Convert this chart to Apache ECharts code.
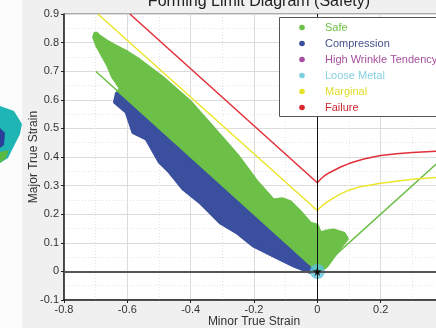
<!DOCTYPE html>
<html>
<head>
<meta charset="utf-8">
<script src="https://cdn.jsdelivr.net/npm/echarts@6/dist/echarts.min.js"></script>
<style>
  html, body { margin: 0; padding: 0; background: #fff; }
  #chart { width: 436px; height: 328px; }
</style>
</head>
<body>
<div id="chart"></div>
<script>
// outline of the "Safe" point cloud (minor, major)
var safeOutline = [
    [-0.700, 0.830], [-0.660, 0.800], [-0.640, 0.788], [-0.600, 0.765], [-0.570, 0.744],
    [-0.486, 0.674], [-0.402, 0.592], [-0.328, 0.499], [-0.254, 0.406], [-0.191, 0.312],
    [-0.139, 0.248], [-0.110, 0.252], [-0.086, 0.242], [-0.054, 0.207], [-0.023, 0.167],
    [-0.002, 0.161], [0.009, 0.132], [0.030, 0.140], [0.051, 0.143], [0.083, 0.132],
    [0.093, 0.114], [0.072, 0.085], [0.030, 0.021], [0.004, -0.002], [-0.012, 0.003],
    [-0.633, 0.621], [-0.620, 0.640], [-0.645, 0.680], [-0.660, 0.720], [-0.680, 0.760],
    [-0.695, 0.790], [-0.705, 0.820]
];
var safeDots = [[-0.699, 0.828], [-0.684, 0.811], [-0.688, 0.788], [-0.660, 0.796]];
// outline of the "Compression" point cloud
var compressionOutline = [
    [-0.633, 0.621], [-0.012, 0.003], [-0.023, -0.002], [-0.075, 0.021], [-0.139, 0.056],
    [-0.202, 0.091], [-0.254, 0.137], [-0.307, 0.172], [-0.370, 0.242], [-0.423, 0.289],
    [-0.465, 0.347], [-0.497, 0.382], [-0.539, 0.464], [-0.581, 0.487], [-0.602, 0.557],
    [-0.639, 0.592]
];
var looseMetal = [[0, 0]];
var failureLine = [[-0.592, 0.9], [0, 0.31], [0.01, 0.322], [0.02, 0.332], [0.03, 0.340],
    [0.05, 0.352], [0.075, 0.366], [0.1, 0.377], [0.125, 0.386], [0.15, 0.394],
    [0.2, 0.405], [0.25, 0.411], [0.3, 0.416], [0.4, 0.421]];
var marginalLine = [[-0.693, 0.9], [0, 0.213], [0.01, 0.224], [0.02, 0.234], [0.03, 0.242],
    [0.05, 0.256], [0.075, 0.272], [0.1, 0.284], [0.125, 0.293], [0.15, 0.299],
    [0.2, 0.308], [0.25, 0.315], [0.3, 0.322], [0.4, 0.331]];
var safeLine = [[-0.7, 0.7], [0, 0], [0.4, 0.4]];

var legendNames = ['Safe', 'Compression', 'High Wrinkle Tendency', 'Loose Metal', 'Marginal', 'Failure'];
var legendColors = ['#6cbf47', '#3a4f9e', '#a64f9e', '#7fcfe0', '#e6e22a', '#d8262e'];
var legendText = ['#6cbf47', '#44528c', '#a64f9e', '#86d0e0', '#e3dc2a', '#cc2a30'];

var FONT = 'Liberation Sans';
var chart = echarts.init(document.getElementById('chart'));

function outlineRenderer(outline, fill) {
    return function (params, api) {
        if (params.dataIndex > 0) {
            return null;
        }
        var pts = [];
        for (var i = 0; i < outline.length; ++i) {
            pts.push(api.coord(outline[i]));
        }
        return {
            type: 'polygon',
            shape: { points: pts },
            style: { fill: fill, stroke: fill, lineWidth: 4, lineJoin: 'round' }
        };
    };
}

// legend box drawn as graphic, above the plot lines
var legendItems = [];
legendItems.push({ type: 'rect', z: 100, shape: { x: 279.5, y: 17.5, width: 180, height: 99 },
    style: { fill: '#fff', stroke: '#555', lineWidth: 1 } });
for (var i = 0; i < legendNames.length; ++i) {
    var cy = 27.5 + 16 * i;
    legendItems.push({ type: 'circle', z: 101, shape: { cx: 302, cy: cy, r: 2.8 },
        style: { fill: legendColors[i] } });
    legendItems.push({ type: 'text', z: 101, x: 325, y: cy,
        style: { text: legendNames[i], fill: legendText[i], font: '11px "' + FONT + '"', verticalAlign: 'middle' } });
}

var option = {
    backgroundColor: '#f0f0f0',
    animation: false,
    textStyle: { fontFamily: FONT },
    title: {
        text: 'Forming Limit Diagram (Safety)',
        left: 254, textAlign: 'center', top: -11,
        textStyle: { fontFamily: FONT, fontSize: 16, fontWeight: 'normal', color: '#222' }
    },
    graphic: [
        { type: 'rect', z: -1, left: 0, top: 0, shape: { width: 22, height: 328 }, style: { fill: '#fcfcfc' } },
        { type: 'polygon', z: -1, shape: { points: [[0, 106], [14, 111], [22, 124], [20, 134], [8, 158], [0, 163]] },
          style: { fill: '#1fb5b5' } },
        { type: 'polygon', z: -1, shape: { points: [[0, 128], [5, 133], [4, 145], [0, 148]] },
          style: { fill: '#2a3f9a' } },
        { type: 'polygon', z: -1, shape: { points: [[0, 152], [9, 150], [6, 158], [0, 163]] },
          style: { fill: '#5cb845' } },
        { type: 'group', z: 100, children: legendItems }
    ],
    grid: {
        left: 64, top: 14, width: 380, height: 286,
        outerBoundsMode: 'none',
        show: true, backgroundColor: '#fff', borderColor: '#666', borderWidth: 1
    },
    xAxis: {
        type: 'value', min: -0.8, max: 0.4, interval: 0.2,
        name: 'Minor True Strain', nameLocation: 'middle', nameGap: 16, nameMoveOverlap: false,
        nameTextStyle: { fontFamily: FONT, fontSize: 12, color: '#333' },
        axisLine: { onZero: false, lineStyle: { color: '#222', width: 1.5 } },
        axisTick: { show: true, length: 3, lineStyle: { color: '#222' } },
        axisLabel: { fontFamily: FONT, fontSize: 11, color: '#333', margin: 4 },
        splitLine: { show: true, lineStyle: { color: '#dcdcdc' } },
        minorTick: { show: false, splitNumber: 2 },
        minorSplitLine: { show: true, lineStyle: { color: '#e4e4e4', type: [1, 2] } }
    },
    yAxis: {
        type: 'value', min: -0.1, max: 0.9, interval: 0.1,
        name: 'Major True Strain', nameLocation: 'middle', nameGap: 24, nameMoveOverlap: false,
        nameTextStyle: { fontFamily: FONT, fontSize: 12, color: '#333' },
        axisLine: { onZero: false, lineStyle: { color: '#222', width: 1.5 } },
        axisTick: { show: true, length: 3, lineStyle: { color: '#222' } },
        axisLabel: { fontFamily: FONT, fontSize: 11, color: '#333', margin: 5 },
        splitLine: { show: true, lineStyle: { color: '#dcdcdc' } },
        minorTick: { show: false, splitNumber: 2 },
        minorSplitLine: { show: true, lineStyle: { color: '#e4e4e4', type: [1, 2] } }
    },
    series: [
        {
            name: 'Safe', type: 'custom', z: 2, clip: true,
            itemStyle: { color: legendColors[0] },
            renderItem: outlineRenderer(safeOutline, legendColors[0]),
            data: safeOutline
        },
        {
            name: 'Safe', type: 'scatter', z: 2, symbolSize: 6,
            itemStyle: { color: legendColors[0] },
            data: safeDots
        },
        {
            name: 'Compression', type: 'custom', z: 2, clip: true,
            itemStyle: { color: legendColors[1] },
            renderItem: outlineRenderer(compressionOutline, legendColors[1]),
            data: compressionOutline
        },
        {
            name: 'zero', type: 'line', z: 3, data: [], silent: true,
            markLine: {
                silent: true, symbol: 'none', label: { show: false },
                data: [
                    { yAxis: 0, lineStyle: { color: '#555', width: 2, type: 'solid' } },
                    { xAxis: 0, lineStyle: { color: '#111', width: 1, type: 'solid' } }
                ]
            }
        },
        {
            name: 'SafeLine', type: 'line', z: 3, symbol: 'none',
            lineStyle: { color: '#6cbf47', width: 1.5 },
            data: safeLine
        },
        {
            name: 'Marginal', type: 'line', z: 3, symbol: 'none',
            lineStyle: { color: '#ece52c', width: 1.5 },
            data: marginalLine
        },
        {
            name: 'Failure', type: 'line', z: 3, symbol: 'none',
            lineStyle: { color: '#e0303a', width: 1.5 },
            data: failureLine
        },
        {
            name: 'Loose Metal', type: 'scatter', z: 4, symbolSize: 15,
            itemStyle: { color: '#5cc6dc' },
            data: looseMetal
        },
        {
            name: 'origin', type: 'scatter', z: 5, symbolSize: 9,
            symbol: 'path://M0,-10L2.35,-3.24L9.51,-3.09L3.8,1.24L5.88,8.09L0,4L-5.88,8.09L-3.8,1.24L-9.51,-3.09L-2.35,-3.24Z',
            itemStyle: { color: '#000' },
            data: looseMetal
        }
    ]
};
chart.setOption(option);
</script>
</body>
</html>
